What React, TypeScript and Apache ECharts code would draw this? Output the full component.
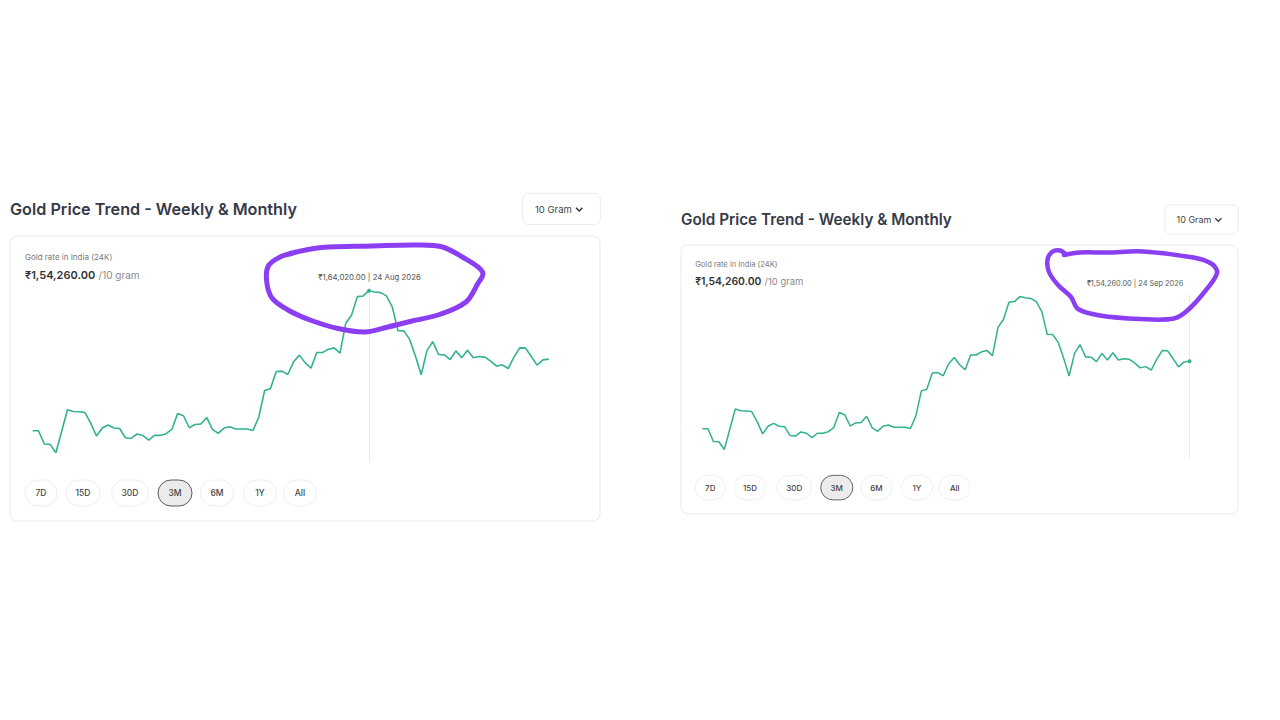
import React, { useEffect, useRef } from "react";
import * as echarts from "echarts";

// ---------- data ----------
const MONTHS = ["Jan", "Feb", "Mar", "Apr", "May", "Jun", "Jul", "Aug", "Sep", "Oct", "Nov", "Dec"];
const START_DATE = Date.UTC(2026, 5, 27); // 27 Jun 2026, daily points for 3M view
const DAY_COUNT = 90;
const dates: string[] = [];
for (let i = 0; i < DAY_COUNT; i++) {
  const d = new Date(START_DATE + i * 86400000);
  dates.push(`${d.getUTCDate()} ${MONTHS[d.getUTCMonth()]} ${d.getUTCFullYear()}`);
}

// Gold rate in India (24K), ₹ per 10 gram
const prices: number[] = [
  144060, 144060, 142160, 142110, 140930, 143990, 147050, 146800, 146760, 146660,
  145150, 143300, 144440, 144870, 144440, 144380, 143060, 142960, 143590, 143390,
  142730, 143390, 143390, 143630, 144240, 146520, 146190, 144480, 144950, 145010,
  145950, 144240, 143670, 144440, 144630, 144300, 144300, 144300, 144100, 146010,
  149790, 150030, 152500, 152550, 152070, 153880, 154830, 153730, 152980, 155200,
  155200, 155680, 155870, 155110, 159380, 160560, 163170, 163270, 164020, 163840,
  163740, 163270, 161750, 158330, 158290, 157110, 154730, 152030, 155480, 156760,
  154920, 154870, 154200, 155440, 154450, 155540, 154450, 154630, 154550, 153980,
  153260, 153450, 152920, 154550, 155870, 155830, 154630, 153410, 154160, 154260,
];

const rangeButtons: string[] = ["7D", "15D", "30D", "3M", "6M", "1Y", "All"];
const selectedRange = "3M";
const TITLE = "Gold Price Trend - Weekly & Monthly";
const UNIT_LABEL = "10 Gram";
const SUBTITLE = "Gold rate in India (24K)";
const UNIT_SUFFIX = "/10 gram";
const focusIndices: number[] = [58, 89]; // hovered points in the two screenshots

// ---------- helpers ----------
function fmtINR(n: number): string {
  const [intPart, dec] = n.toFixed(2).split(".");
  const last3 = intPart.slice(-3);
  let rest = intPart.slice(0, -3);
  const groups: string[] = [];
  while (rest.length > 2) {
    groups.unshift(rest.slice(-2));
    rest = rest.slice(0, -2);
  }
  if (rest.length) groups.unshift(rest);
  return "₹" + (groups.length ? groups.join(",") + "," : "") + last3 + "." + dec;
}

const GREEN = "#33b28b";
const PURPLE = "#8b3ef2";
const FONT = "Inter, 'Noto Sans', sans-serif";

// layout (relative to card origin, in the left screenshot's scale)
const BTN_CX = [31, 73, 120, 165, 207, 250, 290];
const BTN_W = [32, 34, 37, 34, 33, 33, 33];

const panels = [
  { ox: 10, oy: 236, s: 1, focus: focusIndices[0], tipX: 359.5 },
  { ox: 681, oy: 245, s: 0.944, focus: focusIndices[1], tipX: 481 },
];

const loops = [
  {
    w: 5,
    pts: [
      [290, 253.5], [321.7, 247.5], [371.7, 246], [415, 245], [441.7, 246.7], [461.7, 256.7],
      [482.5, 272], [477, 285], [466, 302], [441, 314], [410, 321.5], [388, 327], [365, 332],
      [338, 328.5], [310, 320], [288, 310], [272, 298], [266.7, 281.7], [268.3, 266], [280, 257],
      [292, 253.5],
    ],
  },
  {
    w: 4.5,
    pts: [
      [1064, 255], [1080, 252.5], [1106.7, 252.5], [1143.3, 251.5], [1193.3, 257.5], [1212, 264],
      [1217, 273], [1206, 290], [1188, 310], [1174, 318.5], [1140, 319], [1100, 315.5],
      [1078, 309], [1071, 297], [1058, 285], [1049, 272], [1047.5, 260], [1052, 252],
      [1060, 250.5], [1066, 254.5],
    ],
  },
];

function panelGraphic(p: { ox: number; oy: number; s: number; focus: number; tipX: number }) {
  const children: any[] = [
    {
      type: "rect",
      shape: { x: 0, y: 0, width: 590, height: 285, r: 7 },
      style: { fill: "#ffffff", stroke: "#e9e9ec", lineWidth: 1 },
    },
    {
      type: "text",
      x: 0,
      y: -27,
      style: {
        text: TITLE, fontSize: 16.2, fontWeight: 600, fontFamily: FONT, fill: "#363a48",
        align: "left", verticalAlign: "middle",
      },
    },
    {
      type: "rect",
      shape: { x: 512.7, y: -42.4, width: 77.7, height: 31, r: 6 },
      style: { fill: "#ffffff", stroke: "#ebebed", lineWidth: 1 },
    },
    {
      type: "text",
      x: 525,
      y: -26.5,
      style: {
        text: UNIT_LABEL, fontSize: 9.5, fontFamily: FONT, fill: "#444",
        align: "left", verticalAlign: "middle",
      },
    },
    {
      type: "polyline",
      shape: { points: [[566, -28.3], [569.2, -25], [572.4, -28.3]] },
      style: { stroke: "#333", lineWidth: 1.4, fill: null },
    },
    {
      type: "text",
      x: 15,
      y: 21,
      style: {
        text: SUBTITLE, fontSize: 8, fontFamily: FONT, fill: "#7a7a7a",
        align: "left", verticalAlign: "middle",
      },
    },
    {
      type: "text",
      x: 15,
      y: 39,
      style: {
        text: `{a|${fmtINR(prices[prices.length - 1])}} {b|${UNIT_SUFFIX}}`,
        fontFamily: FONT,
        align: "left",
        verticalAlign: "middle",
        rich: {
          a: { fontSize: 11, fontWeight: 600, fill: "#333", fontFamily: FONT },
          b: { fontSize: 10, fill: "#8a8a8a", fontFamily: FONT },
        },
      },
    },
    {
      type: "text",
      x: p.tipX,
      y: 40.7,
      style: {
        text: `${fmtINR(prices[p.focus])} | ${dates[p.focus]}`,
        fontSize: 7.8, fontFamily: FONT, fill: "#555",
        align: "center", verticalAlign: "middle",
      },
    },
  ];
  rangeButtons.forEach((label, i) => {
    const sel = label === selectedRange;
    children.push({
      type: "rect",
      shape: { x: BTN_CX[i] - BTN_W[i] / 2, y: 244, width: BTN_W[i], height: 26, r: 13 },
      style: { fill: sel ? "#ececef" : "#ffffff", stroke: sel ? "#5a5a5a" : "#eeeeee", lineWidth: 1 },
    });
    children.push({
      type: "text",
      x: BTN_CX[i],
      y: 257,
      style: {
        text: label, fontSize: 8.5, fontWeight: 500, fontFamily: FONT, fill: "#444",
        align: "center", verticalAlign: "middle",
      },
    });
  });
  return { type: "group", x: p.ox, y: p.oy, scaleX: p.s, scaleY: p.s, children };
}

export default function App() {
  const ref = useRef<HTMLDivElement>(null);
  useEffect(() => {
    if (!ref.current) return;
    const chart = echarts.init(ref.current, undefined, { renderer: "svg" });
    const option: any = {
      animation: false,
      backgroundColor: "#ffffff",
      grid: panels.map((p) => ({
        left: p.ox + 22.7 * p.s,
        top: p.oy + 52 * p.s,
        width: 516 * p.s,
        height: 174 * p.s,
      })),
      xAxis: panels.map((_, i) => ({
        type: "category", gridIndex: i, data: dates, boundaryGap: false, show: false,
      })),
      yAxis: panels.map((_, i) => ({
        type: "value", gridIndex: i, min: 139600, max: 164400, show: false,
      })),
      series: panels.map((p, i) => ({
        type: "line",
        xAxisIndex: i,
        yAxisIndex: i,
        data: prices,
        showSymbol: false,
        silent: true,
        lineStyle: { color: GREEN, width: 1.6 * p.s },
        itemStyle: { color: GREEN },
        markLine: {
          silent: true,
          symbol: ["none", "none"],
          label: { show: false },
          lineStyle: { color: "#ebebeb", width: 1, type: "solid" },
          data: [{ xAxis: dates[p.focus] }],
        },
        markPoint: {
          symbol: "circle",
          symbolSize: 4 * p.s,
          itemStyle: { color: GREEN },
          label: { show: false },
          data: [{ coord: [dates[p.focus], prices[p.focus]] }],
        },
      })),
      graphic: [
        ...panels.map((p) => panelGraphic(p)),
        ...loops.map((l) => ({
          type: "polyline",
          z: 100,
          shape: { points: l.pts, smooth: 0.35 },
          style: { stroke: PURPLE, lineWidth: l.w, fill: null, lineCap: "round", lineJoin: "round" },
        })),
      ],
    };
    chart.setOption(option);
    return () => chart.dispose();
  }, []);
  return (
    <div
      ref={ref}
      style={{ position: "absolute", left: 0, top: 0, width: 1280, height: 720, background: "#fff" }}
    />
  );
}
